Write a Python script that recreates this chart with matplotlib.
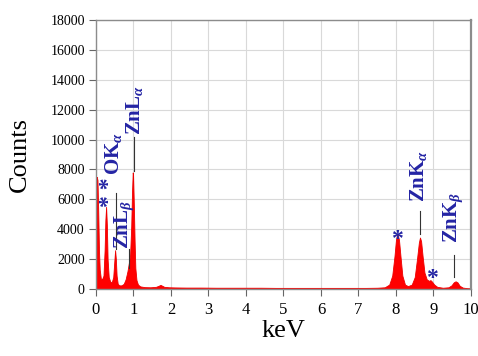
import numpy as np
import matplotlib.pyplot as plt

plt.rcParams['font.family'] = 'Liberation Serif'
plt.rcParams['mathtext.fontset'] = 'custom'
plt.rcParams['mathtext.rm'] = 'Liberation Serif:bold'
plt.rcParams['mathtext.it'] = 'Liberation Serif:bold:italic'
plt.rcParams['mathtext.bf'] = 'Liberation Serif:bold'

# spectrum (keV, counts)
energy = [0.00, 0.02, 0.04, 0.06, 0.08, 0.10, 0.13, 0.16, 0.20, 0.23, 0.25, 0.27,
          0.29, 0.31, 0.34, 0.38, 0.42, 0.46, 0.49, 0.51, 0.53, 0.55, 0.58, 0.62,
          0.68, 0.74, 0.79, 0.84, 0.88, 0.91, 0.94, 0.96, 0.98, 0.99, 1.01, 1.03,
          1.05, 1.08, 1.12, 1.18, 1.30, 1.45, 1.60, 1.67, 1.72, 1.76, 1.82, 1.95,
          2.10, 2.40, 2.80, 3.20, 3.60, 4.00, 4.40, 4.80, 5.20, 5.60, 6.00, 6.40,
          6.80, 7.20, 7.50, 7.70, 7.82, 7.90, 7.96, 8.00, 8.04, 8.08, 8.12, 8.17,
          8.24, 8.32, 8.42, 8.50, 8.56, 8.61, 8.64, 8.67, 8.71, 8.76, 8.82, 8.88,
          8.92, 8.96, 9.02, 9.10, 9.25, 9.40, 9.48, 9.54, 9.59, 9.64, 9.70, 9.78,
          9.90, 10.00]
counts = [600, 7500, 7300, 5200, 2600, 1300, 700, 650, 900, 2600, 4600, 5500,
          4300, 2000, 800, 500, 450, 800, 1900, 2600, 2000, 900, 350, 250,
          250, 350, 650, 1200, 1800, 2300, 4200, 6400, 7800, 7600, 5600, 3200,
          1400, 600, 300, 180, 130, 120, 150, 220, 280, 230, 150, 120,
          110, 100, 100, 90, 90, 90, 90, 80, 80, 80, 80, 80,
          80, 80, 90, 120, 300, 900, 2200, 3300, 3700, 3300, 2200, 900,
          300, 200, 300, 800, 2000, 3100, 3450, 3200, 2200, 1100, 650, 550,
          600, 500, 300, 150, 90, 120, 250, 450, 520, 450, 220, 100,
          60, 50]

xticks = list(range(0, 11))
yticks = list(range(0, 18001, 2000))

blue = '#2424a4'

fig = plt.figure(figsize=(4.78, 3.56), dpi=100)
ax = fig.add_axes([0.2008, 0.188, 0.7845, 0.756])

ax.fill_between(energy, 0, counts, color='#ff0000', linewidth=0.6, edgecolor='#ee0000')

ax.set_xlim(0, 10)
ax.set_ylim(0, 18000)
ax.set_xticks(xticks)
ax.set_yticks(yticks)
ax.grid(True, color='#d9d9d9', linewidth=0.8)
ax.set_axisbelow(True)
for s in ax.spines.values():
    s.set_color('#8c8c8c')
    s.set_linewidth(1.0)
ax.spines['right'].set_linewidth(1.6)
ax.tick_params(axis='both', direction='out', length=5, color='#666666', width=0.8)
ax.tick_params(axis='x', labelsize=12, pad=4)
ax.tick_params(axis='y', labelsize=10, pad=3)

ax.set_xlabel('keV', fontsize=19, labelpad=2)
ax.set_ylabel('Counts', fontsize=19, labelpad=14)

# peak labels
lab = dict(color=blue, fontsize=15, fontweight='bold', rotation=90,
           ha='center', va='bottom')
ax.text(0.48, 7600, r'OK$_{\alpha}$', **lab)
ax.text(1.04, 10300, r'ZnL$_{\alpha}$', **lab)
ax.text(0.76, 2700, r'ZnL$_{\beta}$', **lab)
ax.text(8.60, 5800, r'ZnK$_{\alpha}$', **lab)
ax.text(9.52, 3100, r'ZnK$_{\beta}$', **lab)

line = dict(color='#333333', linewidth=0.8)
ax.plot([0.53, 0.53], [2700, 6400], **line)
ax.plot([1.01, 1.01], [7900, 10200], **line)
ax.plot([0.88, 0.88], [1400, 2700], **line)
ax.plot([8.64, 8.64], [3700, 5200], **line)
ax.plot([9.55, 9.55], [800, 2300], **line)

star = dict(color=blue, fontsize=17, fontweight='bold', ha='center', va='center')
ax.text(0.37, 6450, '* *', rotation=90, **star)
ax.text(8.03, 3300, '*', **star)
ax.text(8.96, 700, '*', **star)

fig.savefig('out.png', dpi=100)
